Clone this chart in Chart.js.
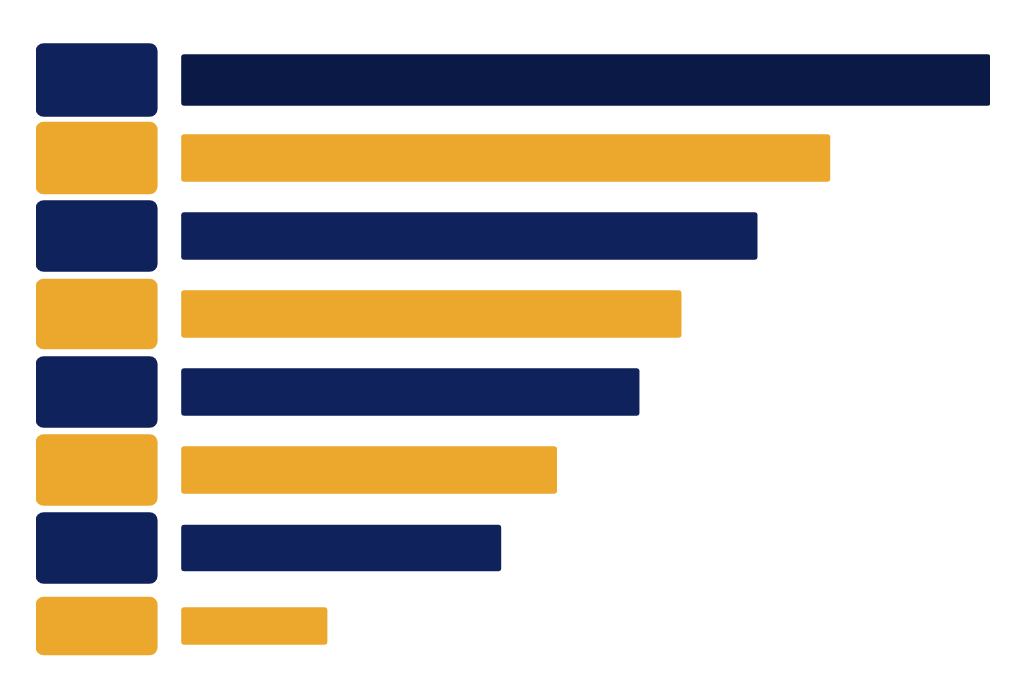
<!DOCTYPE html>
<html>
<head>
<meta charset="utf-8">
<script src="https://cdn.jsdelivr.net/npm/chart.js@4/dist/chart.umd.min.js"></script>
<style>
  html, body { margin: 0; padding: 0; background: #ffffff; }
  #wrap { width: 1024px; height: 683px; }
</style>
</head>
<body>
<div id="wrap"><canvas id="c" width="1024" height="683"></canvas></div>
<script>
// ---- data ----
const categories = ["1", "2", "3", "4", "5", "6", "7", "8"];
const barValues = [100, 80.2, 71.2, 61.8, 56.6, 46.4, 39.5, 18.0];
const markerRange = [-18, -3];
const scaleMin = -18;
const scaleMax = 100;

// ---- styles ----
const navy = "#10225c";
const navyDark = "#0b1946";
const amber = "#eca82d";
const barColors = [navyDark, amber, navy, amber, navy, amber, navy, amber];
const markerColors = [navy, amber, navy, amber, navy, amber, navy, amber];
const barThick = [51, 47, 47, 47, 47, 47, 46, 37];
const markerThick = [73, 72, 71, 70, 71, 71, 71, 58];

const datasets = [];
categories.forEach((c, i) => {
  datasets.push({
    label: "marker" + c,
    data: categories.map((_, j) => j === i ? markerRange : null),
    backgroundColor: markerColors[i],
    borderRadius: 8,
    borderSkipped: false,
    barThickness: markerThick[i],
    grouped: false
  });
  datasets.push({
    label: "bar" + c,
    data: categories.map((_, j) => j === i ? barValues[i] : null),
    backgroundColor: barColors[i],
    borderRadius: 3,
    borderSkipped: false,
    barThickness: barThick[i],
    grouped: false,
    base: 0
  });
});

new Chart(document.getElementById("c"), {
  type: "bar",
  data: { labels: categories, datasets },
  options: {
    indexAxis: "y",
    responsive: false,
    animation: false,
    devicePixelRatio: 1,
    layout: { padding: { left: 36, right: 34, top: 41, bottom: 18 } },
    plugins: { legend: { display: false }, tooltip: { enabled: false } },
    scales: {
      x: { display: false, min: scaleMin, max: scaleMax, grid: { display: false } },
      y: { display: false, grid: { display: false }, offset: true }
    }
  }
});
</script>
</body>
</html>
